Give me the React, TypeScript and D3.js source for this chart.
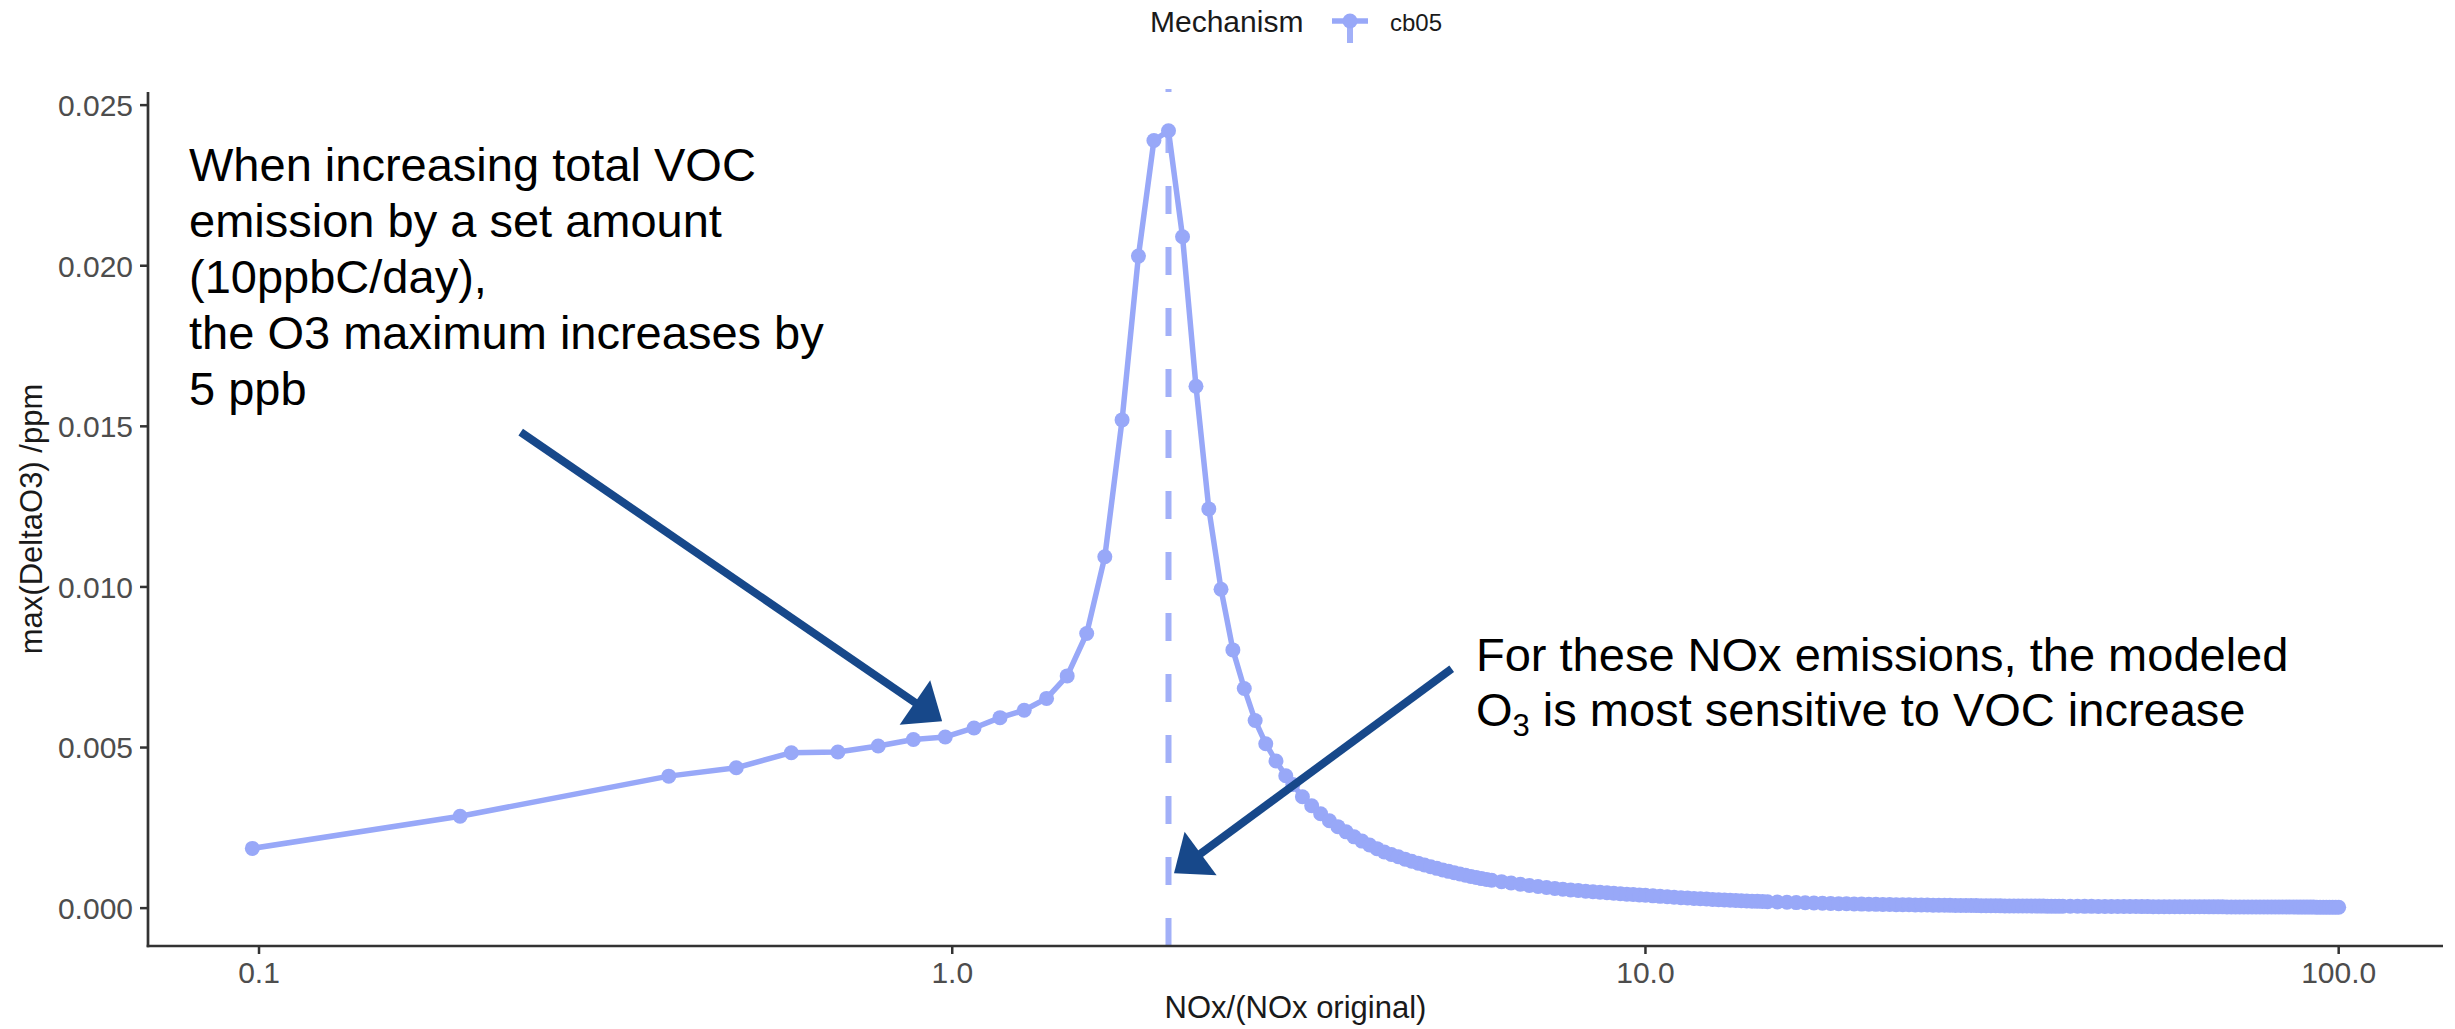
import React, { useEffect } from "react";
import * as d3 from "d3";

// ---- data ----
const noxCore = [
  0.0978, 0.195, 0.39, 0.488, 0.586, 0.684, 0.782, 0.879, 0.977, 1.075,
  1.172, 1.27, 1.368, 1.465, 1.563, 1.66, 1.758, 1.856, 1.954, 2.051,
  2.149, 2.247, 2.345, 2.442, 2.54, 2.638, 2.735, 2.833, 2.931, 3.028,
];
const o3Core = [
  0.00186, 0.00286, 0.00411, 0.00437, 0.00484, 0.00486, 0.00505, 0.00525, 0.00533, 0.00561,
  0.00593, 0.00616, 0.00653, 0.00723, 0.00855, 0.01094, 0.0152, 0.0203, 0.0239, 0.0242,
  0.0209, 0.01625, 0.01243, 0.00993, 0.00804, 0.00684, 0.00584, 0.00512, 0.00458, 0.00412,
];
const noxTail = [
  3.1, 3.2, 3.3, 3.4, 3.5, 3.6, 3.7, 3.8, 3.9, 4.0, 4.1, 4.2, 4.3, 4.4, 4.5, 4.6, 4.7, 4.8, 4.9, 5.0,
  5.1, 5.2, 5.3, 5.4, 5.5, 5.6, 5.7, 5.8, 5.9, 6.0, 6.2, 6.4, 6.6, 6.8, 7.0, 7.2, 7.4, 7.6, 7.8, 8.0,
  8.2, 8.4, 8.6, 8.8, 9.0, 9.2, 9.4, 9.6, 9.8, 10,
  10.25, 10.5, 10.75, 11, 11.25, 11.5, 11.75, 12, 12.25, 12.5, 12.75, 13, 13.25, 13.5, 13.75, 14, 14.25, 14.5, 14.75, 15,
  15.5, 16, 16.5, 17, 17.5, 18, 18.5, 19, 19.5, 20, 20.5, 21, 21.5, 22, 22.5, 23, 23.5, 24, 24.5, 25,
  25.5, 26, 26.5, 27, 27.5, 28, 28.5, 29, 29.5, 30, 30.5, 31, 31.5, 32, 32.5, 33, 33.5, 34, 34.5, 35,
  35.5, 36, 36.5, 37, 37.5, 38, 38.5, 39, 39.5, 40, 41, 42, 43, 44, 45, 46, 47, 48, 49, 50,
  51, 52, 53, 54, 55, 56, 57, 58, 59, 60, 61, 62, 63, 64, 65, 66, 67, 68, 69, 70,
  71, 72, 73, 74, 75, 76, 77, 78, 79, 80, 81, 82, 83, 84, 85, 86, 87, 88, 89, 90,
  91, 92, 93, 94, 95, 96, 97, 98, 99, 100,
];
const o3Tail = [
  0.00385, 0.00347, 0.00319, 0.00294, 0.00272, 0.002537, 0.002375, 0.00222, 0.002087, 0.001965,
  0.001853, 0.00175, 0.00167, 0.0016, 0.001526, 0.001461, 0.0014, 0.001343, 0.00129, 0.001239,
  0.001191, 0.001145, 0.001103, 0.001062, 0.001024, 0.000988, 0.000953, 0.00092, 0.000894, 0.00087,
  0.000824, 0.000781, 0.000742, 0.000707, 0.000673, 0.000643, 0.000614, 0.000589, 0.000568, 0.000548,
  0.000529, 0.000511, 0.000495, 0.000479, 0.000464, 0.00045, 0.000436, 0.000424, 0.000411, 0.0004,
  0.000383, 0.000368, 0.000353, 0.00034, 0.000327, 0.000315, 0.000304, 0.000293, 0.000283, 0.000273,
  0.000264, 0.000255, 0.000247, 0.000239, 0.000232, 0.000225, 0.000218, 0.000212, 0.000206, 0.0002,
  0.00019, 0.000182, 0.000173, 0.000166, 0.000159, 0.000152, 0.000146, 0.00014, 0.000135, 0.00013,
  0.000126, 0.000122, 0.000119, 0.000116, 0.000112, 0.000109, 0.000106, 0.000104, 0.000101, 0.0000986,
  0.0000962, 0.0000939, 0.0000917, 0.0000896, 0.0000876, 0.0000857, 0.0000838, 0.000082, 0.0000803, 0.0000786,
  0.000077, 0.0000755, 0.000074, 0.0000725, 0.0000712, 0.00007, 0.0000692, 0.0000683, 0.0000675, 0.0000667,
  0.000066, 0.0000652, 0.0000645, 0.0000638, 0.0000631, 0.0000624, 0.0000618, 0.0000611, 0.0000605, 0.0000599,
  0.0000587, 0.0000576, 0.0000565, 0.0000554, 0.0000545, 0.0000535, 0.0000526, 0.0000517, 0.0000508, 0.00005,
  0.0000493, 0.0000486, 0.0000479, 0.0000472, 0.0000466, 0.000046, 0.0000454, 0.0000448, 0.0000443, 0.0000437,
  0.0000432, 0.0000427, 0.0000422, 0.0000417, 0.0000412, 0.0000408, 0.0000403, 0.0000399, 0.0000394, 0.000039,
  0.0000386, 0.0000382, 0.0000378, 0.0000375, 0.0000371, 0.0000367, 0.0000364, 0.000036, 0.0000357, 0.0000354,
  0.000035, 0.0000347, 0.0000344, 0.0000341, 0.0000338, 0.0000335, 0.0000332, 0.000033, 0.0000327, 0.0000324,
  0.0000322, 0.0000319, 0.0000316, 0.0000314, 0.0000312, 0.0000309, 0.0000307, 0.0000305, 0.0000302, 0.00003,
];
const vlineX = 2.051;
const xTicks = [0.1, 1, 10, 100];
const xTickLabels = ["0.1", "1.0", "10.0", "100.0"];
const yTicks = [0, 0.005, 0.01, 0.015, 0.02, 0.025];
const yTickLabels = ["0.000", "0.005", "0.010", "0.015", "0.020", "0.025"];
const legendTitle = "Mechanism";
const seriesName = "cb05";
const xTitle = "NOx/(NOx original)";
const yTitle = "max(DeltaO3) /ppm";
const noteLeft = [
  "When increasing total VOC",
  "emission by a set amount",
  "(10ppbC/day),",
  "the O3 maximum increases by",
  "5 ppb",
];
// arrows in data coordinates: [x0, y0, x1(tip), y1(tip)]
const arrowLeft = [0.2385, 0.01482, 0.967, 0.00582];
const arrowRight = [5.254, 0.00745, 2.089, 0.00109];

const W = 2455;
const H = 1029;
const PANEL = { left: 148, right: 2443, top: 92, bottom: 946 };
const LINE_COLOR = "#98A8F8";
const ARROW_COLOR = "#17488A";
const AXIS_COLOR = "#333333";
const FONT = "'Liberation Sans', Arial, Helvetica, sans-serif";
const PT_R = 7.5;

function arrowHead(x0: number, y0: number, x1: number, y1: number, len: number, half: number) {
  const dx = x1 - x0;
  const dy = y1 - y0;
  const L = Math.hypot(dx, dy);
  const ux = dx / L;
  const uy = dy / L;
  const bx = x1 - ux * len;
  const by = y1 - uy * len;
  const px = -uy;
  const py = ux;
  return {
    points: `${x1},${y1} ${bx + px * half},${by + py * half} ${bx - px * half},${by - py * half}`,
    bx: x1 - ux * (len - 4),
    by: y1 - uy * (len - 4),
  };
}

export default function App() {
  useEffect(() => {
    document.body.style.margin = "0";
  }, []);

  const nox = noxCore.concat(noxTail);
  const o3 = o3Core.concat(o3Tail);
  const data = nox.map((x, i) => ({ x, y: o3[i] }));

  const lx = d3.extent(nox.map((v) => Math.log10(v))) as [number, number];
  const lr = lx[1] - lx[0];
  const x = d3
    .scaleLog()
    .domain([Math.pow(10, lx[0] - 0.05 * lr), Math.pow(10, lx[1] + 0.05 * lr)])
    .range([PANEL.left, PANEL.right]);
  const ye = d3.extent(o3) as [number, number];
  const yr = ye[1] - ye[0];
  const y = d3
    .scaleLinear()
    .domain([ye[0] - 0.05 * yr, ye[1] + 0.05 * yr])
    .range([PANEL.bottom, PANEL.top]);

  const line = d3
    .line<{ x: number; y: number }>()
    .x((d) => x(d.x))
    .y((d) => y(d.y));

  const arrows = [arrowLeft, arrowRight].map((a) => {
    const x0 = x(a[0]);
    const y0 = y(a[1]);
    const x1 = x(a[2]);
    const y1 = y(a[3]);
    const h = arrowHead(x0, y0, x1, y1, 33, 27);
    return { x0, y0, x1, y1, h };
  });

  const vx = x(vlineX);
  const cx = (PANEL.left + PANEL.right) / 2;
  const cy = (PANEL.top + PANEL.bottom) / 2;

  return (
    <svg width={W} height={H} style={{ display: "block", background: "#fff" }} fontFamily={FONT}>
      <rect x={0} y={0} width={W} height={H} fill="#fff" />
      {/* legend */}
      <text x={1150} y={32} fontSize={30} fill="#1a1a1a">{legendTitle}</text>
      <line x1={1332} x2={1368} y1={21} y2={21} stroke={LINE_COLOR} strokeWidth={5.5} />
      <line x1={1350} x2={1350} y1={43} y2={0} stroke={LINE_COLOR} strokeWidth={6} strokeDasharray="28 33" opacity={0.9} />
      <circle cx={1350} cy={21} r={PT_R} fill={LINE_COLOR} />
      <text x={1390} y={31} fontSize={24} fill="#1a1a1a">{seriesName}</text>

      {/* series */}
      <path d={line(data) || ""} fill="none" stroke={LINE_COLOR} strokeWidth={5.5} strokeLinejoin="round" />
      {data.map((d, i) => (
        <circle key={i} cx={x(d.x)} cy={y(d.y)} r={PT_R} fill={LINE_COLOR} />
      ))}
      <line x1={vx} x2={vx} y1={PANEL.bottom} y2={PANEL.top - 3} stroke={LINE_COLOR} strokeWidth={6} strokeDasharray="28 33" opacity={0.9} />

      {/* axes */}
      <line x1={PANEL.left} x2={PANEL.left} y1={PANEL.top} y2={PANEL.bottom + 1.3} stroke={AXIS_COLOR} strokeWidth={2.7} />
      <line x1={PANEL.left - 1.3} x2={PANEL.right} y1={PANEL.bottom} y2={PANEL.bottom} stroke={AXIS_COLOR} strokeWidth={2.7} />
      {yTicks.map((t, i) => (
        <g key={"y" + i}>
          <line x1={PANEL.left - 8} x2={PANEL.left} y1={y(t)} y2={y(t)} stroke={AXIS_COLOR} strokeWidth={2.5} />
          <text x={PANEL.left - 15} y={y(t)} dy="0.36em" textAnchor="end" fontSize={30} fill="#4d4d4d">
            {yTickLabels[i]}
          </text>
        </g>
      ))}
      {xTicks.map((t, i) => (
        <g key={"x" + i}>
          <line x1={x(t)} x2={x(t)} y1={PANEL.bottom} y2={PANEL.bottom + 8} stroke={AXIS_COLOR} strokeWidth={2.5} />
          <text x={x(t)} y={983} textAnchor="middle" fontSize={30} fill="#4d4d4d">
            {xTickLabels[i]}
          </text>
        </g>
      ))}
      <text x={cx} y={1018} textAnchor="middle" fontSize={31} fill="#1a1a1a">{xTitle}</text>
      <text transform={`translate(42,${cy}) rotate(-90)`} textAnchor="middle" fontSize={31} fill="#1a1a1a">
        {yTitle}
      </text>

      {/* annotations */}
      {noteLeft.map((s, i) => (
        <text key={"n" + i} x={189} y={181 + i * 56} fontSize={47} fill="#000">
          {s}
        </text>
      ))}
      <text x={1476} y={671} fontSize={47} fill="#000">For these NOx emissions, the modeled</text>
      <text x={1476} y={726} fontSize={47} fill="#000">
        O<tspan fontSize={31} dy={10}>3</tspan>
        <tspan dy={-10}> is most sensitive to VOC increase</tspan>
      </text>
      {arrows.map((a, i) => (
        <g key={"a" + i}>
          <line x1={a.x0} y1={a.y0} x2={a.h.bx} y2={a.h.by} stroke={ARROW_COLOR} strokeWidth={8} />
          <polygon points={a.h.points} fill={ARROW_COLOR} />
        </g>
      ))}
    </svg>
  );
}
